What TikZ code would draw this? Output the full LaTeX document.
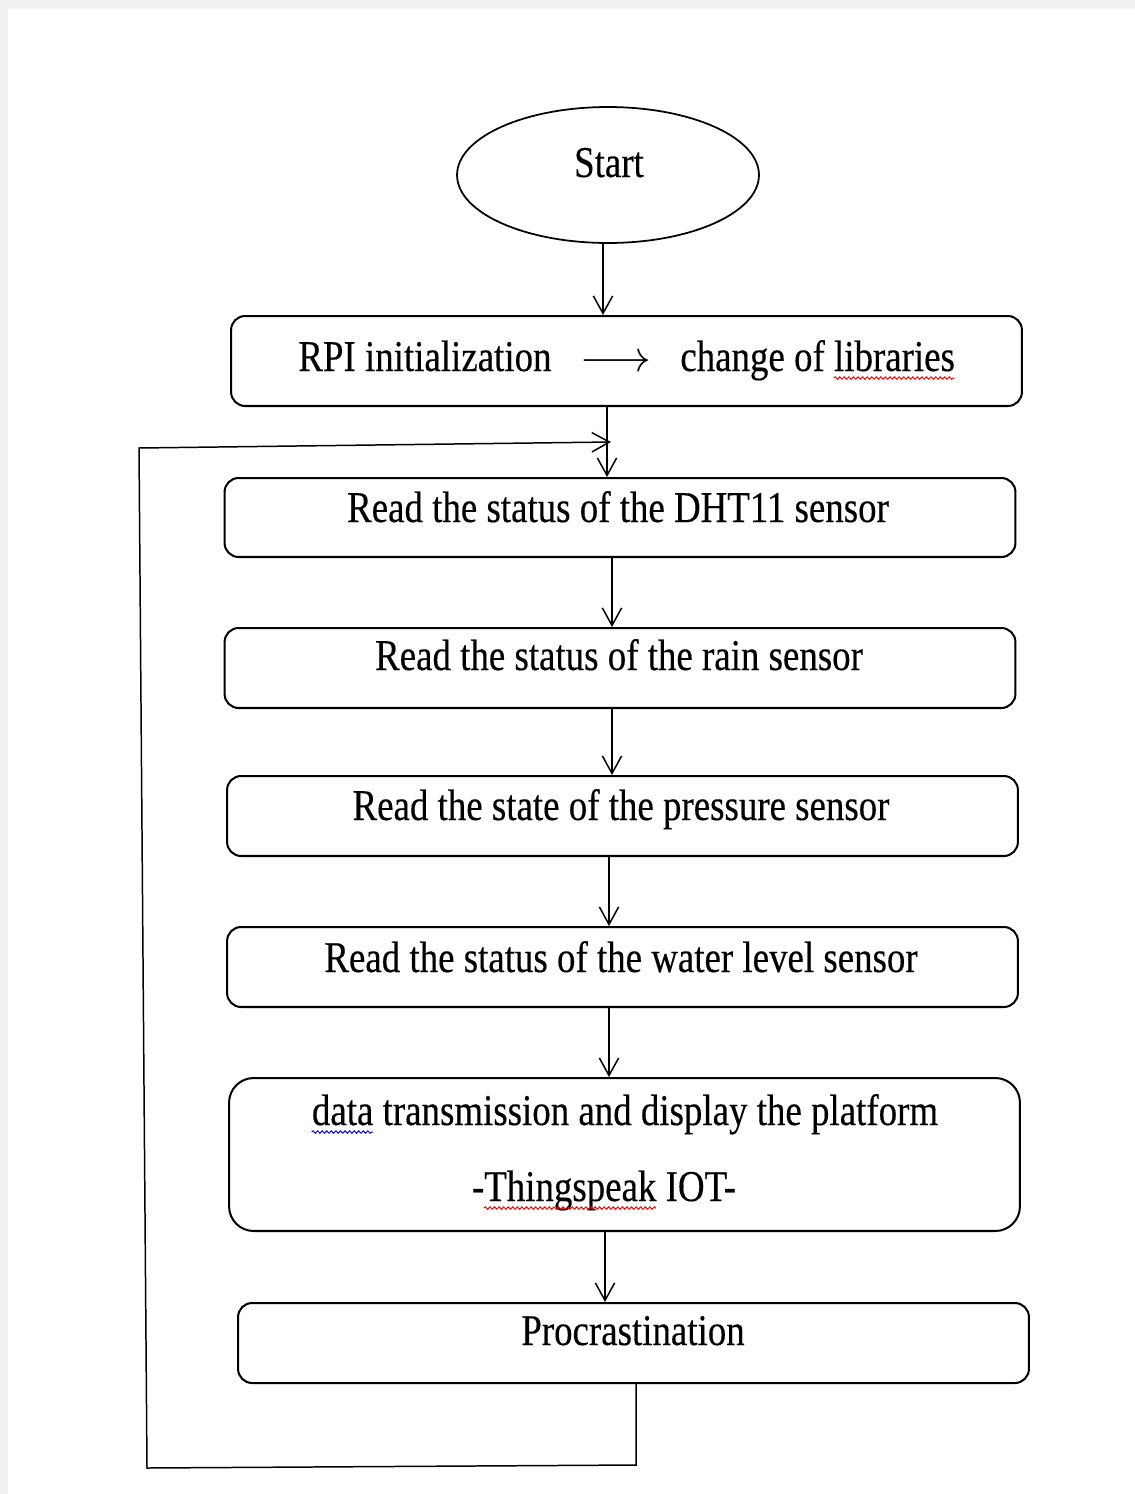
\documentclass[tikz,border=0pt]{standalone}
\usepackage{fontspec}
\setmainfont[FakeStretch=0.84, FakeBold=0.3]{Liberation Serif}
\usetikzlibrary{shapes.geometric,arrows.meta,decorations.pathmorphing}
\begin{document}
\begin{tikzpicture}[x=0.02cm,y=-0.02cm,
  box/.style={draw, line width=1.15pt, rounded corners=8pt, inner sep=0pt, minimum width=15.82cm},
  txt/.style={inner sep=0pt, anchor=base, font=\fontsize{25}{30}\selectfont},
  arr/.style={line width=0.85pt, -{Straight Barb[length=10pt,width=11pt]}},
  wave/.style={line width=0.55pt, decorate, decoration={snake, amplitude=0.7pt, segment length=2.6pt}}]
\useasboundingbox (0,0) rectangle (1135,1494);
% page frame
\fill[black!6] (0,0) rectangle (1135,1494);
\fill[white] (8,9) rectangle (1135,1494);

% start terminal
\node[draw, ellipse, line width=1pt, minimum width=6.04cm, minimum height=2.72cm, inner sep=0pt] (start) at (608,175) {};
\node[txt] (starttxt) at (609,177) {Start};

% process boxes
\node[box, minimum height=1.8cm] (b1) at (626.5,361) {};
\node[box, minimum height=1.58cm] (b2) at (620,517.5) {};
\node[box, minimum height=1.6cm] (b3) at (620,668) {};
\node[box, minimum height=1.6cm] (b4) at (622.5,816) {};
\node[box, minimum height=1.6cm] (b5) at (622.5,967) {};
\node[box, minimum height=3.06cm, rounded corners=14pt] (b6) at (624.5,1154.5) {};
\node[box, minimum height=1.6cm] (b7) at (633.5,1343) {};

% box texts
\node[txt, anchor=base west] (rpi) at (298,371) {RPI initialization};
\node[txt] (rarrow) at (616,371) {$\longrightarrow$};
\node[txt, anchor=base west] (chg) at (680,371) {change of libraries};
\node[txt] (t2) at (618,522) {Read the status of the DHT11 sensor};
\node[txt] (t3) at (619,670) {Read the status of the rain sensor};
\node[txt] (t4) at (621,820) {Read the state of the pressure sensor};
\node[txt] (t5) at (621,972) {Read the status of the water level sensor};
\node[txt] (t6a) at (625,1125) {data transmission and display the platform};
\node[txt] (t6b) at (604,1201) {-Thingspeak IOT-};
\node[txt] (t7) at (633,1345) {Procrastination};

% spell-check underlines
\draw[wave, red] ([xshift=87.5pt, yshift=-4pt]chg.base west) -- ++(68.8pt,0);
\draw[wave, blue] ([yshift=-4pt]t6a.base west) -- ++(35pt,0);
\draw[wave, red] ([xshift=7pt, yshift=-4pt]t6b.base west) -- ++(97.9pt,0);

% flow arrows
\draw[arr] (start.south -| 603,0) -- (b1.north -| 603,0);
\draw[arr] (b1.south -| 607,0) -- (b2.north -| 607,0);
\draw[arr] (b2.south -| 612,0) -- (b3.north -| 612,0);
\draw[arr] (b3.south -| 612,0) -- (b4.north -| 612,0);
\draw[arr] (b4.south -| 609,0) -- (b5.north -| 609,0);
\draw[arr] (b5.south -| 609,0) -- (b6.north -| 609,0);
\draw[arr] (b6.south -| 605,0) -- (b7.north -| 605,0);

% feedback loop back to the sensor readings
\coordinate (lb) at (636,1465);
\coordinate (ll) at (147,1468);
\coordinate (lt) at (139,448);
\coordinate (le) at (611,442);
\draw[arr] (b7.south -| 636,0) -- (lb) -- (ll) -- (lt) -- (le);
\end{tikzpicture}
\end{document}
